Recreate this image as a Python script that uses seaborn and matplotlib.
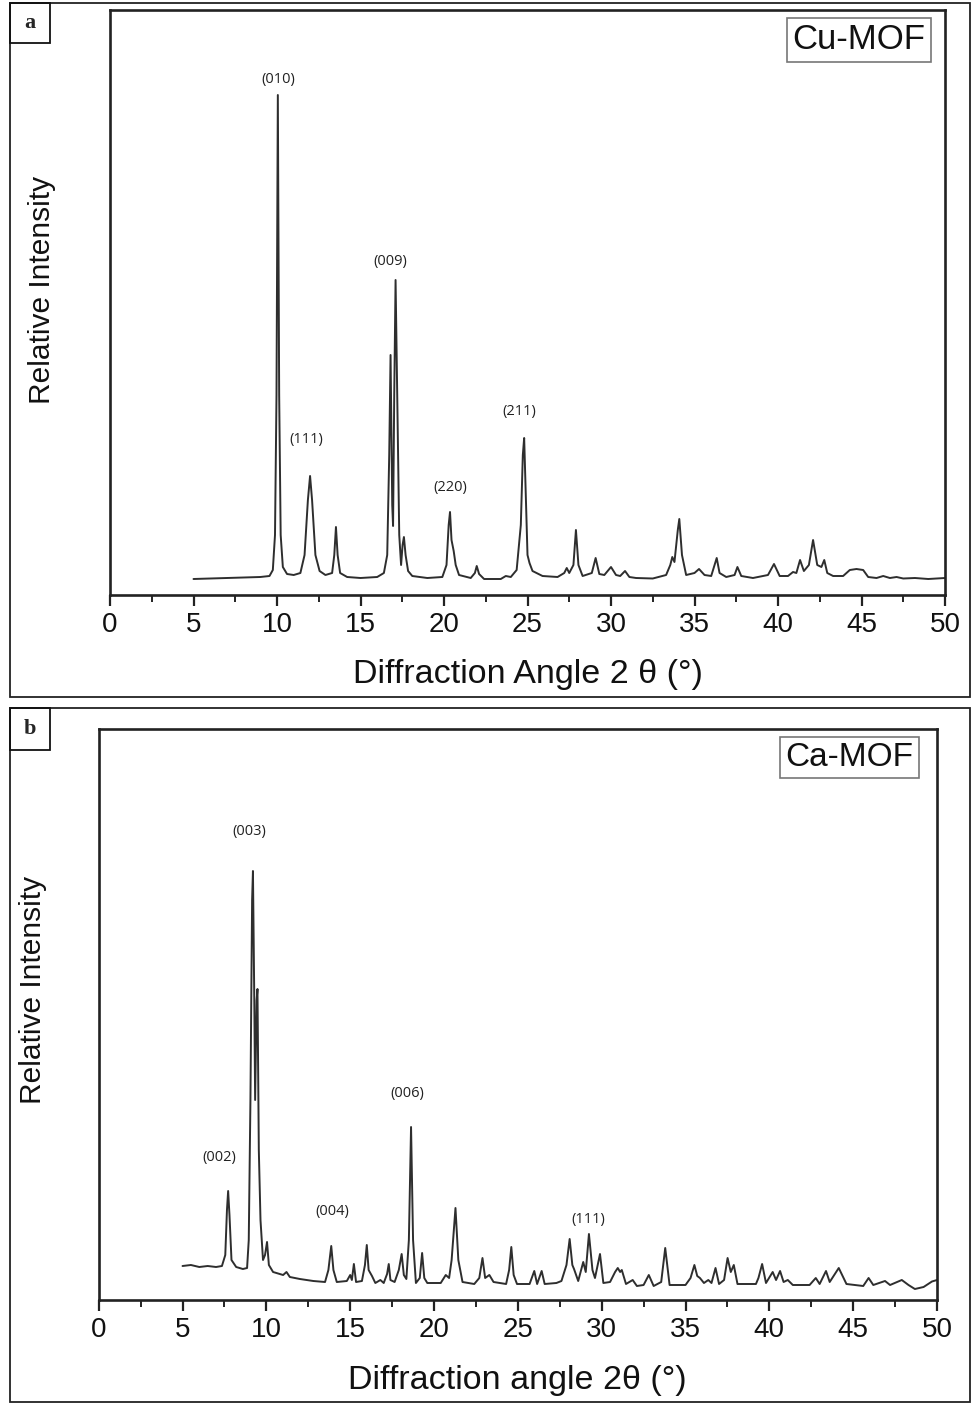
import matplotlib
matplotlib.use("Agg")
import matplotlib.pyplot as plt
import pandas as pd
import seaborn as sns
from matplotlib.patches import Rectangle
from matplotlib.ticker import MultipleLocator

# ---------------- data ----------------
cu_angle = [5.0, 6.0, 7.0, 8.0, 9.0, 9.55, 9.75, 9.88, 9.97, 10.05, 10.13, 10.22, 10.35, 10.6,
            11.0, 11.4, 11.65, 11.85, 11.98, 12.1, 12.3, 12.55, 12.9, 13.3, 13.43, 13.53, 13.63,
            13.78, 14.2, 15.0, 16.0, 16.4, 16.6, 16.72, 16.8, 16.9, 16.95, 17.02, 17.1, 17.2,
            17.32, 17.43, 17.52, 17.6, 17.7, 17.85, 18.1, 19.0, 19.9, 20.15, 20.28, 20.36, 20.45,
            20.58, 20.7, 20.9, 21.6, 21.85, 21.96, 22.1, 22.4, 23.4, 23.7, 24.0, 24.35, 24.6,
            24.72, 24.8, 24.9, 25.0, 25.12, 25.3, 25.9, 26.8, 27.2, 27.35, 27.5, 27.75, 27.9,
            28.05, 28.3, 28.85, 29.08, 29.3, 29.6, 30.0, 30.3, 30.55, 30.84, 31.1, 31.5, 32.5,
            33.3, 33.55, 33.67, 33.8, 34.0, 34.09, 34.25, 34.5, 35.0, 35.27, 35.6, 36.0, 36.2,
            36.33, 36.5, 36.9, 37.4, 37.57, 37.8, 38.5, 39.4, 39.76, 40.1, 40.6, 40.9, 41.1,
            41.32, 41.55, 41.85, 42.1, 42.35, 42.6, 42.77, 42.95, 43.3, 43.9, 44.3, 44.7, 45.1,
            45.4, 45.9, 46.3, 46.7, 47.1, 47.5, 48.2, 49.0, 50.0]
cu_intensity = [16, 16.5, 17, 17.5, 18, 19, 25, 60, 200, 500, 200, 60, 28, 21,
                20, 22, 40, 95, 119, 95, 40, 24, 20, 22, 40, 68, 40,
                22, 18, 17, 18, 22, 40, 140, 240, 90, 69, 200, 315, 200,
                60, 30, 50, 58, 40, 24, 19, 17, 18, 30, 70, 83, 55,
                44, 30, 20, 17, 22, 29, 21, 16, 16, 19, 18, 25, 70,
                140, 157, 100, 40, 32, 24, 19, 18, 22, 27, 22, 30, 65,
                30, 19, 22, 37, 21, 20, 28, 20, 19, 24, 18, 17, 16.5,
                20, 30, 38, 33, 65, 76, 40, 20, 22, 26, 20, 19, 30,
                37, 22, 18, 20, 28, 19, 17, 20, 31, 19, 19, 23, 22,
                35, 24, 30, 55, 30, 28, 35, 22, 19, 19, 25, 26, 25,
                18, 17, 19, 17, 18, 16.5, 17, 16, 17]

ca_angle = [5.0, 5.5, 6.0, 6.5, 7.0, 7.35, 7.55, 7.65, 7.72, 7.8, 7.92, 8.2, 8.6, 8.85, 8.95,
            9.05, 9.15, 9.2, 9.28, 9.33, 9.42, 9.47, 9.55, 9.65, 9.8, 9.92, 10.04, 10.15, 10.4,
            11.0, 11.2, 11.4, 12.0, 12.8, 13.5, 13.7, 13.87, 14.0, 14.2, 14.8, 15.0, 15.1, 15.22,
            15.35, 15.7, 15.88, 15.99, 16.1, 16.3, 16.5, 16.8, 17.0, 17.2, 17.3, 17.4, 17.65,
            17.9, 18.07, 18.2, 18.35, 18.5, 18.63, 18.75, 18.92, 19.15, 19.29, 19.42, 19.6,
            20.4, 20.7, 20.9, 21.05, 21.28, 21.45, 21.7, 22.4, 22.7, 22.89, 23.05, 23.3, 23.55,
            24.3, 24.48, 24.61, 24.75, 24.95, 25.7, 25.98, 26.15, 26.42, 26.6, 27.3, 27.6, 27.9,
            28.09, 28.25, 28.35, 28.6, 28.9, 29.05, 29.24, 29.45, 29.6, 29.9, 30.1, 30.5, 30.8,
            30.96, 31.1, 31.2, 31.45, 31.85, 32.1, 32.5, 32.81, 33.1, 33.55, 33.79, 34.05, 35.0,
            35.3, 35.53, 35.7, 35.86, 36.1, 36.36, 36.55, 36.79, 37.0, 37.3, 37.51, 37.7, 37.88,
            38.1, 39.2, 39.35, 39.57, 39.8, 40.2, 40.4, 40.64, 40.85, 41.1, 41.4, 42.4, 42.77,
            43.0, 43.38, 43.6, 44.14, 44.6, 45.6, 45.92, 46.2, 46.9, 47.2, 47.9, 48.3, 48.68,
            49.2, 49.7, 50.0]
ca_intensity = [34, 35, 33, 34, 33, 34, 45, 90, 109, 85, 40, 33, 31, 32, 60,
                200, 400, 429, 300, 200, 300, 311, 150, 80, 40, 45, 58, 35, 28,
                25, 28, 23, 21, 19, 18, 30, 54, 30, 18, 19, 25, 20, 36,
                18, 19, 35, 55, 30, 24, 17, 20, 17, 26, 36, 20, 18,
                30, 46, 25, 21, 60, 173, 60, 17, 22, 47, 22, 17,
                17, 25, 22, 40, 92, 40, 18, 16, 22, 42, 22, 25, 18,
                16, 30, 53, 25, 16, 16, 29, 16, 29, 16, 17, 19, 35,
                61, 35, 31, 19, 38, 28, 66, 30, 22, 46, 17, 18, 28,
                32, 28, 30, 16, 20, 14, 15, 25, 14, 18, 52, 15, 15,
                22, 35, 24, 22, 17, 20, 17, 32, 16, 20, 42, 28, 35,
                16, 16, 22, 36, 17, 28, 20, 29, 18, 20, 15, 15, 22,
                16, 29, 18, 32, 16, 14, 22, 15, 19, 15, 20, 15, 11,
                13, 18.5, 20]

cu_hkl = ["(010)", "(111)", "(009)", "(220)", "(211)"]
cu_hkl_angle = [10.06, 11.74, 16.77, 20.36, 24.5]
cu_hkl_int = [515, 155, 334, 107, 184]

ca_hkl = ["(003)", "(002)", "(004)", "(006)", "(111)"]
ca_hkl_angle = [9.0, 7.17, 13.95, 18.4, 29.19]
ca_hkl_int = [469, 143, 89, 206, 80]

xticks = [0, 5, 10, 15, 20, 25, 30, 35, 40, 45, 50]

# ---------------- figure ----------------
sns.set_theme(style="ticks")
plt.rcParams['font.family'] = ['Liberation Sans', 'DejaVu Sans']

W, H = 973, 1406
fig = plt.figure(figsize=(W / 100, H / 100), dpi=100)


def fx(px):
    return px / W


def fy(py):
    return 1 - py / H


# panel frames
for (x0, y0, x1, y1) in [(10, 3, 970, 697), (10, 708, 970, 1402)]:
    fig.add_artist(Rectangle((fx(x0), fy(y1)), fx(x1) - fx(x0), fy(y0) - fy(y1),
                             transform=fig.transFigure, fill=False, lw=1.3,
                             edgecolor="#222222"))
for (x0, y0, x1, y1, lab) in [(10, 3, 50, 43, "a"), (10, 708, 50, 750, "b")]:
    fig.add_artist(Rectangle((fx(x0), fy(y1)), fx(x1) - fx(x0), fy(y0) - fy(y1),
                             transform=fig.transFigure, fill=False, lw=1.3,
                             edgecolor="#111111"))
    fig.text(fx((x0 + x1) / 2), fy((y0 + y1) / 2), lab, ha="center", va="center",
             fontsize=16, fontweight="bold", family=["Liberation Serif", "DejaVu Serif"])


def panel(rect, angle, inten, ymax, name, name_xy, name_fs, hkl, hkl_x, hkl_y,
          xlabel, xlabel_xy, ylabel_xy):
    ax = fig.add_axes(rect)
    df = pd.DataFrame({"angle": angle, "intensity": inten})
    sns.lineplot(data=df, x="angle", y="intensity", ax=ax, sort=False,
                 estimator=None, color="#2e2e2e", lw=1.4)
    ax.set_xlim(0, 50)
    ax.set_ylim(0, ymax)
    ax.set_xticks(xticks)
    ax.xaxis.set_minor_locator(MultipleLocator(2.5))
    ax.set_yticks([])
    for s in ax.spines.values():
        s.set_linewidth(1.9)
        s.set_color("#222222")
    ax.tick_params(axis="x", which="major", direction="out", length=8, width=1.6,
                   labelsize=20, pad=4, colors="#222222", labelcolor="#111111")
    ax.tick_params(axis="x", which="minor", direction="out", length=5, width=1.4,
                   colors="#222222")
    ax.set_xlabel(xlabel, fontsize=24.5, color="#111111", va="top")
    ax.xaxis.set_label_coords(*xlabel_xy)
    ax.set_ylabel("Relative Intensity", fontsize=21.5, color="#111111", va="center")
    ax.yaxis.set_label_coords(*ylabel_xy)
    ax.text(name_xy[0], name_xy[1], name, transform=ax.transAxes, ha="center",
            va="center", fontsize=name_fs, color="#111111",
            bbox=dict(boxstyle="square,pad=0.16", fc="white", ec="#777777", lw=1.2))
    for t, xv, yv in zip(hkl, hkl_x, hkl_y):
        ax.text(xv, yv, t, ha="center", va="center", fontsize=10.5,
                family=["Open Sans", "DejaVu Sans"], color="#222222")
    return ax


panel([fx(110), fy(595), (945 - 110) / W, (595 - 10) / H],
      cu_angle, cu_intensity, 585, "Cu-MOF", (0.897, 0.949), 25,
      cu_hkl, cu_hkl_angle, cu_hkl_int,
      "Diffraction Angle 2 \u03b8 (\u00b0)", (0.5006, -0.110), (-0.0814, 0.521))

panel([fx(98.7), fy(1300), (937 - 98.7) / W, (1300 - 729) / H],
      ca_angle, ca_intensity, 571, "Ca-MOF", (0.8956, 0.950), 24,
      ca_hkl, ca_hkl_angle, ca_hkl_int,
      "Diffraction angle 2\u03b8 (\u00b0)", (0.4996, -0.113), (-0.0784, 0.543))

fig.savefig("out.png", dpi=100)
